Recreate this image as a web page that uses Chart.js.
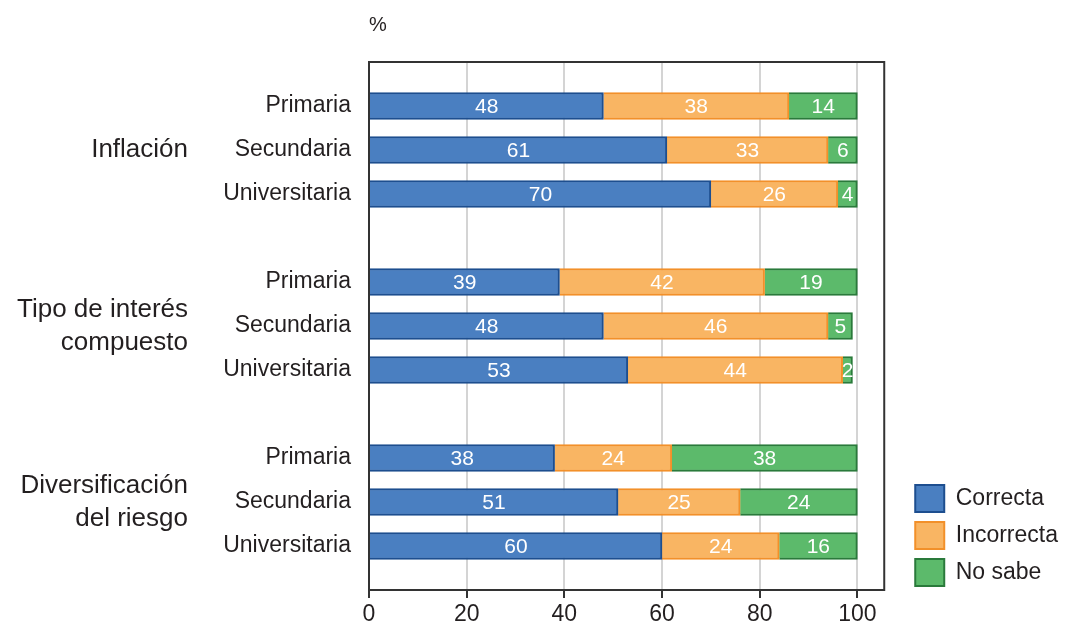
<!DOCTYPE html>
<html>
<head>
<meta charset="utf-8">
<script src="https://cdn.jsdelivr.net/npm/chart.js@4"></script>
<style>
  body { margin: 0; background: #fff; }
</style>
</head>
<body>
<canvas id="grafico" width="1071" height="627"></canvas>
<script>
// Datos del grafico
var grupos = [['Inflación'], ['Tipo de interés', 'compuesto'], ['Diversificación', 'del riesgo']];
var niveles = ['Primaria', 'Secundaria', 'Universitaria'];
var correcta = [48, 61, 70, 39, 48, 53, 38, 51, 60];
var incorrecta = [38, 33, 26, 42, 46, 44, 24, 25, 24];
var noSabe = [14, 6, 4, 19, 5, 2, 38, 24, 16];
var xTicks = [0, 20, 40, 60, 80, 100];

var fuente = "'Liberation Sans', Arial, sans-serif";
var colorTexto = '#231f20';

// filas vacias entre grupos
var etiquetas = [''];
grupos.forEach(function () {
    niveles.forEach(function (n) { etiquetas.push(n); });
    etiquetas.push('');
});
function conHuecos(valores) {
    var out = [null];
    for (var g = 0; g < grupos.length; g++) {
        for (var i = 0; i < niveles.length; i++) out.push(valores[g * niveles.length + i]);
        out.push(null);
    }
    return out;
}

// etiquetas de valores, grupos, marco y "%"
var extras = {
    id: 'extras',
    afterLayout: function (chart) {
        // subir un poco la leyenda
        chart.legend.top -= 31;
        chart.legend.bottom -= 31;
    },
    afterDatasetsDraw: function (chart) {
        var ctx = chart.ctx;
        ctx.save();
        ctx.fillStyle = '#fff';
        ctx.font = '21px ' + fuente;
        ctx.textAlign = 'center';
        ctx.textBaseline = 'middle';
        chart.data.datasets.forEach(function (ds, d) {
            chart.getDatasetMeta(d).data.forEach(function (el, i) {
                if (ds.data[i] == null) return;
                var c = el.getCenterPoint();
                ctx.fillText(ds.data[i], c.x, c.y + 1);
            });
        });
        ctx.restore();
    },
    afterDraw: function (chart) {
        var ctx = chart.ctx;
        var a = chart.chartArea;
        var y = chart.scales.y;
        ctx.save();
        ctx.strokeStyle = '#333';
        ctx.lineWidth = 2;
        ctx.strokeRect(a.left, a.top, a.right - a.left, a.bottom - a.top);

        ctx.fillStyle = colorTexto;
        ctx.font = '26px ' + fuente;
        ctx.textAlign = 'right';
        ctx.textBaseline = 'middle';
        grupos.forEach(function (lineas, g) {
            var yc = y.getPixelForValue(1 + g * (niveles.length + 1) + 1);
            var alto = 33;
            lineas.forEach(function (t, k) {
                ctx.fillText(t, 188, yc + (k - (lineas.length - 1) / 2) * alto);
            });
        });

        ctx.textAlign = 'left';
        ctx.font = '20px ' + fuente;
        ctx.fillText('%', a.left, 25);
        ctx.restore();
    }
};

var ctx = document.getElementById('grafico').getContext('2d');
var chart = new Chart(ctx, {
    type: 'bar',
    data: {
        labels: etiquetas,
        datasets: [{
            label: 'Correcta',
            data: conHuecos(correcta),
            backgroundColor: '#4a7fc1',
            borderColor: '#1d4e8f',
            borderWidth: 2
        }, {
            label: 'Incorrecta',
            data: conHuecos(incorrecta),
            backgroundColor: '#f9b563',
            borderColor: '#f2902a',
            borderWidth: 2
        }, {
            label: 'No sabe',
            data: conHuecos(noSabe),
            backgroundColor: '#5cba6b',
            borderColor: '#2a7a3b',
            borderWidth: 2
        }]
    },
    plugins: [extras],
    options: {
        indexAxis: 'y',
        responsive: false,
        animation: false,
        devicePixelRatio: 1,
        barThickness: 27,
        layout: { padding: { top: 62, left: 0, right: 3, bottom: 0 } },
        plugins: {
            tooltip: { enabled: false },
            legend: {
                position: 'right',
                align: 'end',
                labels: {
                    boxWidth: 29,
                    boxHeight: 27,
                    padding: 10,
                    color: colorTexto,
                    font: { family: fuente, size: 23 }
                }
            }
        },
        scales: {
            x: {
                stacked: true,
                min: 0,
                max: 105.5,
                afterBuildTicks: function (s) {
                    s.ticks = xTicks.map(function (v) { return { value: v }; });
                },
                afterFit: function (s) { s.height = 37; },
                border: { display: false },
                grid: {
                    color: '#d4d4d4',
                    lineWidth: 2,
                    tickColor: '#333',
                    tickLength: 8,
                    tickWidth: 2
                },
                ticks: {
                    color: colorTexto,
                    padding: 3,
                    maxRotation: 0,
                    font: { family: fuente, size: 23 }
                }
            },
            y: {
                stacked: true,
                offset: false,
                afterFit: function (s) { s.width = 369; },
                border: { display: false },
                grid: { display: false, drawTicks: false },
                ticks: {
                    color: colorTexto,
                    padding: 18,
                    autoSkip: false,
                    font: { family: fuente, size: 23 }
                }
            },
            y2: {
                type: 'linear',
                position: 'right',
                afterFit: function (s) { s.width = 21; },
                border: { display: false },
                grid: { display: false, drawTicks: false },
                ticks: { display: false }
            }
        }
    }
});
</script>
</body>
</html>
